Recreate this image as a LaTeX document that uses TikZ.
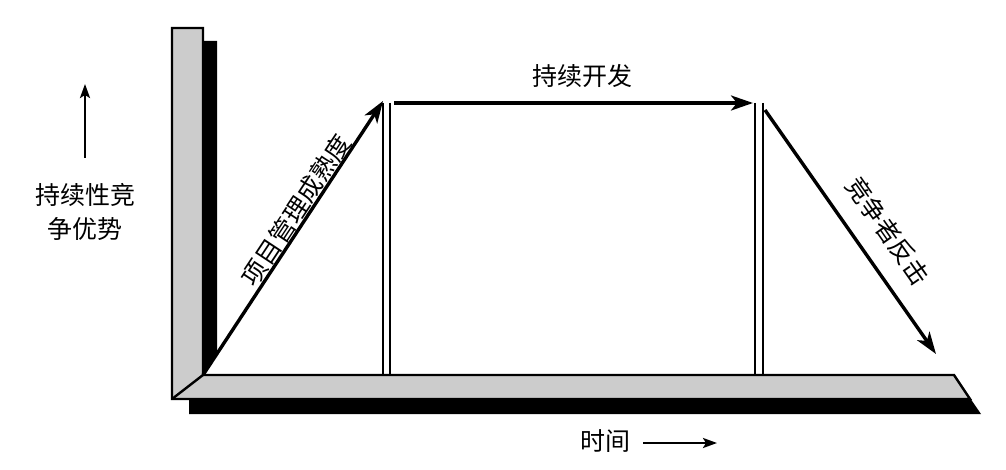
\documentclass[tikz,border=0pt]{standalone}
\usepackage{fontspec}
\newfontfamily\cjk{Noto Sans CJK SC}
\usetikzlibrary{arrows.meta}
\begin{document}
\begin{tikzpicture}[x=1pt,y=-1pt,
  lbl/.style={font=\cjk\fontsize{25}{30}\selectfont, inner sep=0pt},
  bigarrow/.style={line width=3.4pt, -{Stealth[length=22pt,width=15pt,inset=6pt]}},
  smallarrow/.style={line width=2.4pt, -{Stealth[length=14pt,width=10pt,inset=3pt]}},
  bar/.style={fill=black!20, draw=black, line width=2.4pt, line join=miter},
  post/.style={line width=2.2pt}]
\useasboundingbox (0,0) rectangle (1006,470);
% shadows
\fill[black] (203,41) -- (217,41) -- (217,354) -- (203,375) -- cycle;
\fill[black] (189,398) -- (970,398) -- (981,414) -- (189,414) -- cycle;
% L bar
\draw[bar] (172,28) -- (203,28) -- (203,375) -- (954,375) -- (970,399) -- (172,399) -- cycle;
\draw[line width=2.4pt] (172,399) -- (203,375);
% coordinates
\coordinate (o) at (203,375);
\coordinate (p1) at (383,101);
\coordinate (p2) at (394,103);
\coordinate (p3) at (753,103);
\coordinate (p4) at (765,110);
\coordinate (p5) at (936,354);
\coordinate (a1t) at (383,103); \coordinate (a1b) at (383,376);
\coordinate (a2t) at (390,103); \coordinate (a2b) at (390,376);
\coordinate (b1t) at (755,103); \coordinate (b1b) at (755,376);
\coordinate (b2t) at (763,103); \coordinate (b2b) at (763,376);
% posts
\draw[post] (a1t) -- (a1b);
\draw[post] (a2t) -- (a2b);
\draw[post] (b1t) -- (b1b);
\draw[post] (b2t) -- (b2b);
% arrows
\draw[bigarrow] (o) -- (p1);
\draw[bigarrow] (p2) -- (p3);
\draw[bigarrow] (p4) -- (p5);
% labels
\node[lbl] (t1) at (582,76) {持续开发};
\node[lbl, rotate=56.5] (t2) at (296,210) {项目管理成熟度};
\node[lbl, rotate=-55] (t3) at (888,231) {竞争者反击};
\node[lbl] (t4) at (85,195) {持续性竞};
\node[lbl] (t5) at (85,229) {争优势};
\node[lbl] (t6) at (605,441) {时间};
\coordinate (u1) at (85,158); \coordinate (u2) at (85,84);
\draw[smallarrow] (u1) -- (u2);
\coordinate (r1) at (643,443); \coordinate (r2) at (717,443);
\draw[smallarrow] (r1) -- (r2);
\end{tikzpicture}
\end{document}
